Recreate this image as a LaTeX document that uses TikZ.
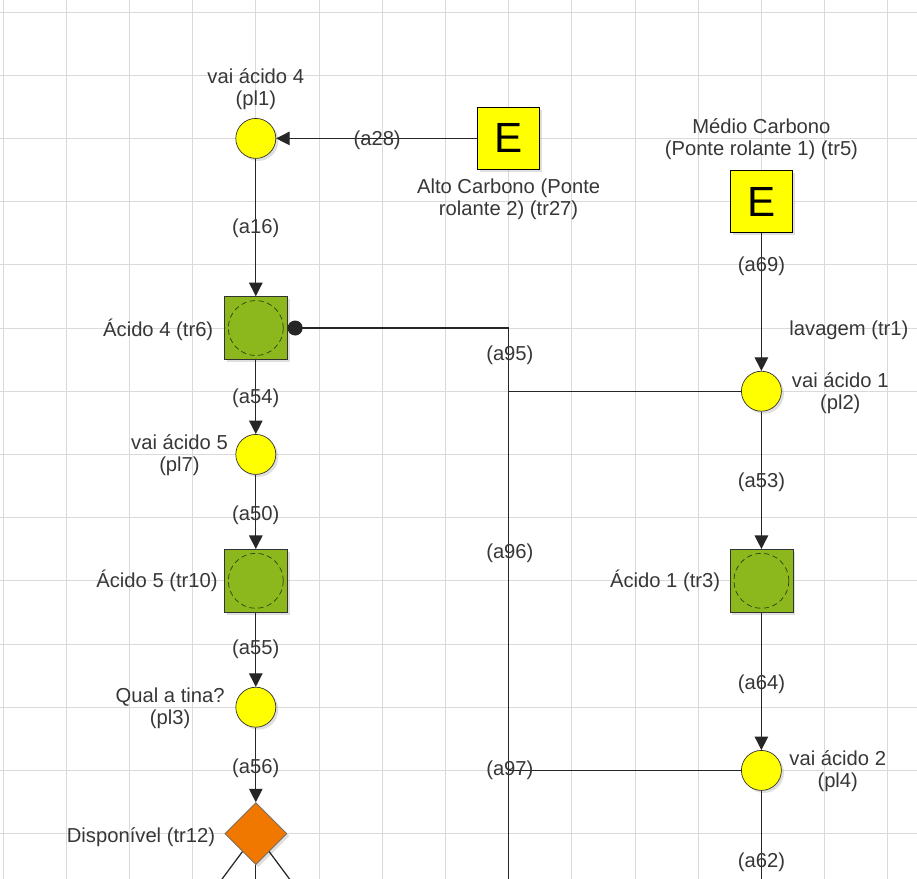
\documentclass[tikz,border=0pt]{standalone}
\usepackage{fontspec}
\setmainfont{Liberation Sans}
\usetikzlibrary{arrows.meta,positioning,shapes.geometric,shadows}

\definecolor{plyellow}{RGB}{255,255,0}
\definecolor{trgreen}{RGB}{140,184,30}
\definecolor{trdark}{RGB}{40,65,10}
\definecolor{chorange}{RGB}{240,120,0}
\definecolor{txtgray}{RGB}{55,55,55}
\definecolor{gridgray}{RGB}{218,218,218}

\begin{document}
\begin{tikzpicture}[x=1.264cm, y=-1.264cm,
    every node/.style={font=\fontsize{11.5}{12.5}\selectfont, text=txtgray},
    soft/.style={drop shadow={shadow xshift=0.05cm, shadow yshift=-0.05cm, opacity=0.25}},
    place/.style={circle, draw=black!80, fill=plyellow, minimum size=0.8cm, inner sep=0pt, soft},
    trans/.style={rectangle, draw=black!80, fill=trgreen, minimum size=1.26cm, inner sep=0pt, soft,
      path picture={\draw[trdark, densely dashed] (path picture bounding box.center) circle (0.55cm);}},
    entry/.style={rectangle, draw=black, line width=0.8pt, fill=plyellow, minimum size=1.24cm, inner sep=0pt, soft,
      font=\fontsize{24}{24}\selectfont, text=black},
    choice/.style={diamond, aspect=1, draw=black!60, fill=chorange, minimum width=1.24cm, minimum height=1.24cm, inner sep=0pt, soft},
    lbl/.style={align=center, inner sep=1pt},
    arcline/.style={draw=black!85, line width=0.7pt},
    tip/.style={-{Triangle[length=0.27cm, width=0.27cm]}}]

	\useasboundingbox (-0.0475,-0.19) rectangle (14.462,13.718);
	\clip (-0.0475,-0.19) rectangle (14.462,13.718);
	\fill[white] (-0.0475,-0.19) rectangle (14.462,13.718);

	% Grid
	\foreach \i in {0,...,14} \draw[gridgray, line width=0.5pt] (\i,-0.3) -- (\i,13.8);
	\foreach \j in {0,...,13} \draw[gridgray, line width=0.5pt] (-0.1,\j) -- (14.5,\j);

	% Places
	\node[place] (pl1) at (4,2) {};
	\node[place] (pl7) at (4,7) {};
	\node[place] (pl3) at (4,11) {};
	\node[place] (pl2) at (12,6) {};
	\node[place] (pl4) at (12,12) {};

	% Transitions
	\node[entry] (tr27) at (8,2) {E};
	\node[entry] (tr5) at (12,3) {E};
	\node[trans] (tr6) at (4,5) {};
	\node[trans] (tr10) at (4,9) {};
	\node[trans] (tr3) at (12,9) {};
	\node[choice] (tr12) at (4,13) {};

	% Junctions and open ends
	\coordinate (j95a) at (8,5);
	\coordinate (j95b) at (8,6);
	\coordinate (j97) at (8,12);
	\coordinate (out96) at (8,14.1);
	\coordinate (out62) at (12,14.1);
	\coordinate (out12a) at (3.22,14.05);
	\coordinate (out12b) at (4,14.1);
	\coordinate (out12c) at (4.78,14.05);

	% Names
	\node[lbl] (pl1-l) at (4,1.22) {vai ácido 4\\(pl1)};
	\node[lbl] (tr27-l) at (8,2.96) {Alto Carbono (Ponte\\rolante 2) (tr27)};
	\node[lbl] (tr5-l) at (12,2.01) {Médio Carbono\\(Ponte rolante 1) (tr5)};
	\node[lbl, anchor=west] (tr1-l) at (12.41,5.03) {lavagem (tr1)};
	\node[lbl, anchor=west] (pl2-l) at (12.45,6.03) {vai ácido 1\\(pl2)};
	\node[lbl, anchor=east] (tr6-l) at (3.36,5.03) {Ácido 4 (tr6)};
	\node[lbl, anchor=east] (pl7-l) at (3.59,7.01) {vai ácido 5\\(pl7)};
	\node[lbl, anchor=east] (tr10-l) at (3.43,9.0) {Ácido 5 (tr10)};
	\node[lbl, anchor=east] (tr3-l) at (11.38,9.0) {Ácido 1 (tr3)};
	\node[lbl, anchor=east] (pl3-l) at (3.54,11.01) {Qual a tina?\\(pl3)};
	\node[lbl, anchor=west] (pl4-l) at (12.41,12.01) {vai ácido 2\\(pl4)};
	\node[lbl, anchor=east] (tr12-l) at (3.39,13.05) {Disponível (tr12)};

	% Arcs
	\draw[arcline, tip] (tr27) -- (pl1);
	\draw[arcline, tip] (pl1) -- (tr6);
	\draw[arcline, tip] (tr6) -- (pl7);
	\draw[arcline, tip] (pl7) -- (tr10);
	\draw[arcline, tip] (tr10) -- (pl3);
	\draw[arcline, tip] (pl3) -- (tr12);
	\draw[arcline, tip] (tr5) -- (pl2);
	\draw[arcline, tip] (pl2) -- (tr3);
	\draw[arcline, tip] (tr3) -- (pl4);
	\draw[arcline] (pl4) -- (out62);
	\draw[arcline, -{Circle[length=0.3cm]}] (pl2) -- (j95b) -- (j95a) -- (tr6);
	\draw[arcline] (j95b) -- (out96);
	\draw[arcline] (pl4) -- (j97);
	\draw[arcline] (tr12) -- (out12a);
	\draw[arcline] (tr12) -- (out12b);
	\draw[arcline] (tr12) -- (out12c);

	% Arc labels
	\node[lbl] (a28) at (5.92,2.03) {(a28)};
	\node[lbl] (a16) at (4,3.42) {(a16)};
	\node[lbl] (a69) at (12,4.03) {(a69)};
	\node[lbl] (a95) at (8.02,5.43) {(a95)};
	\node[lbl] (a54) at (4,6.11) {(a54)};
	\node[lbl] (a53) at (12,7.44) {(a53)};
	\node[lbl] (a50) at (4,7.96) {(a50)};
	\node[lbl] (a96) at (8.02,8.56) {(a96)};
	\node[lbl] (a55) at (4,10.09) {(a55)};
	\node[lbl] (a64) at (12,10.63) {(a64)};
	\node[lbl] (a56) at (4,11.96) {(a56)};
	\node[lbl] (a97) at (8.02,11.99) {(a97)};
	\node[lbl] (a62) at (12,13.45) {(a62)};

\end{tikzpicture}
\end{document}
